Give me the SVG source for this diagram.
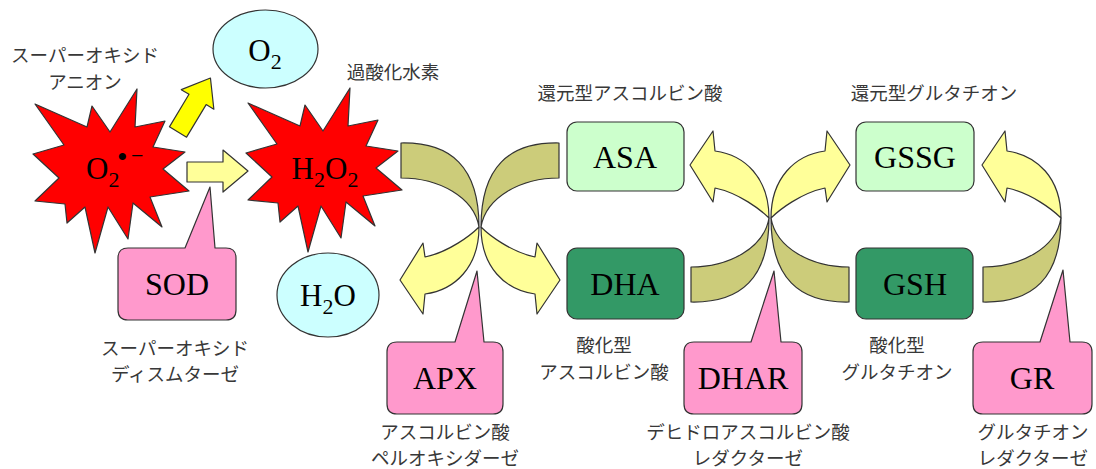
<svg xmlns="http://www.w3.org/2000/svg" width="1096" height="469" viewBox="0 0 1096 469">
<defs>
<style>
.bg{fill:#ffffff}
.ln{stroke:#333333;stroke-width:1.2;stroke-linejoin:round}
.star{fill:#ff0000}
.ell{fill:#ccffff}
.lite{fill:#ccffcc}
.dark{fill:#339966}
.pink{fill:#ff99cc}
.olive{fill:#cccc7a}
.yel{fill:#ffff99}
.yel2{fill:#ffff00}
.big{font-family:"Liberation Serif","Times New Roman",serif;font-size:32px;fill:#000;text-anchor:middle}
.mid{font-family:"Liberation Serif","Times New Roman",serif;font-size:31px;fill:#000}
.jp{font-family:"Noto Sans CJK JP","Noto Sans",sans-serif;font-size:18.5px;fill:#383838;text-anchor:middle}
</style>
<polygon id="starShape" points="137,89 135,127 165,121 153,147 185,152 163,169 189,191 150,197 162,227 133,203 128,239 108,207 95,253 85,207 67,223 65,204 35,201 59,178 33,154 64,145 35,104 87,127 92,106 110,132"/>
<g id="arcShape">
<path class="olive ln" d="M-78,-84 C-28,-85 0,-60 0,0 C-5,-30 -40,-49 -78,-49 Z"/>
<path class="yel ln" d="M0,0 C-8,8 -30,25 -54,30 L-56,16 L-79,53 L-56,87 L-54,67 C-24,63 0,40 0,0 Z"/>
</g>
</defs>
<rect class="bg" x="0" y="0" width="1096" height="469"/>

<g id="connectors">
<path class="yel2 ln" transform="translate(178,132) rotate(-59)" d="M0,-10 L38,-10 L38,-19 L63,0 L38,19 L38,10 L0,10 Z"/>
<path class="yel ln" d="M187,162 L223,162 L223,150 L248,171 L223,192 L223,182 L187,182 Z"/>
<use href="#arcShape" transform="translate(479,227)"/>
<use href="#arcShape" transform="translate(481,227) scale(-1,1)"/>
<use href="#arcShape" transform="translate(769,218) scale(1,-1)"/>
<use href="#arcShape" transform="translate(771,218) scale(-1,-1)"/>
<use href="#arcShape" transform="translate(1061,218) scale(1,-1)"/>
</g>

<g id="node-superoxide">
<use href="#starShape" class="star ln"/>
<text class="mid" x="86" y="179">O<tspan font-size="22" dy="8">2</tspan><tspan x="117" y="167" font-size="30">•</tspan><tspan x="131" y="163" font-size="22">−</tspan></text>
<text class="jp" x="85" y="62">スーパーオキシド</text>
<text class="jp" x="85" y="89">アニオン</text>
</g>

<g id="node-h2o2">
<use href="#starShape" class="star ln" transform="translate(213,-1)"/>
<text class="mid" x="325" y="179" text-anchor="middle">H<tspan font-size="22" dy="8">2</tspan><tspan dy="-8">O</tspan><tspan font-size="22" dy="8">2</tspan></text>
<text class="jp" x="393" y="79">過酸化水素</text>
</g>

<g id="node-o2">
<ellipse class="ell ln" cx="265.5" cy="49" rx="52.5" ry="39"/>
<text class="mid" x="265" y="61" text-anchor="middle">O<tspan font-size="22" dy="8">2</tspan></text>
</g>

<g id="node-h2o">
<ellipse class="ell ln" cx="328" cy="295" rx="51" ry="42"/>
<text class="mid" x="328" y="306" text-anchor="middle">H<tspan font-size="22" dy="8">2</tspan><tspan dy="-8">O</tspan></text>
</g>

<g id="node-sod">
<path class="pink ln" d="M128,248 L185,248 L210,187 L215,248 L226,248 Q236,248 236,258 L236,310 Q236,320 226,320 L128,320 Q118,320 118,310 L118,258 Q118,248 128,248 Z"/>
<text class="big" x="177" y="295">SOD</text>
<text class="jp" x="175" y="355">スーパーオキシド</text>
<text class="jp" x="175" y="381">ディスムターゼ</text>
</g>

<g id="node-asa">
<rect class="lite ln" x="567" y="122" width="117" height="69" rx="10"/>
<text class="big" x="625" y="168">ASA</text>
<text class="jp" x="630" y="100">還元型アスコルビン酸</text>
</g>

<g id="node-dha">
<rect class="dark ln" x="567" y="248" width="117" height="71" rx="10"/>
<text class="big" x="625" y="295">DHA</text>
<text class="jp" x="604" y="352">酸化型</text>
<text class="jp" x="604" y="379">アスコルビン酸</text>
</g>

<g id="node-gssg">
<rect class="lite ln" x="856" y="122" width="118" height="69" rx="10"/>
<text class="big" x="915" y="168">GSSG</text>
<text class="jp" x="934" y="100">還元型グルタチオン</text>
</g>

<g id="node-gsh">
<rect class="dark ln" x="856" y="248" width="117" height="71" rx="10"/>
<text class="big" x="915" y="295">GSH</text>
<text class="jp" x="897" y="352">酸化型</text>
<text class="jp" x="897" y="379">グルタチオン</text>
</g>

<g id="node-apx">
<path class="pink ln" d="M397,342 L455,342 L477,271 L484,342 L493,342 Q503,342 503,352 L503,404 Q503,414 493,414 L397,414 Q387,414 387,404 L387,352 Q387,342 397,342 Z"/>
<text class="big" x="445" y="389">APX</text>
<text class="jp" x="445" y="439">アスコルビン酸</text>
<text class="jp" x="445" y="465">ペルオキシダーゼ</text>
</g>

<g id="node-dhar">
<path class="pink ln" d="M694,342 L751,342 L774,271 L781,342 L792,342 Q802,342 802,352 L802,404 Q802,414 792,414 L694,414 Q684,414 684,404 L684,352 Q684,342 694,342 Z"/>
<text class="big" x="743" y="389">DHAR</text>
<text class="jp" x="748" y="439">デヒドロアスコルビン酸</text>
<text class="jp" x="748" y="465">レダクターゼ</text>
</g>

<g id="node-gr">
<path class="pink ln" d="M983,342 L1040,342 L1063,270 L1070,342 L1082,342 Q1092,342 1092,352 L1092,404 Q1092,414 1082,414 L983,414 Q973,414 973,404 L973,352 Q973,342 983,342 Z"/>
<text class="big" x="1032" y="389">GR</text>
<text class="jp" x="1033" y="439">グルタチオン</text>
<text class="jp" x="1033" y="465">レダクターゼ</text>
</g>
</svg>
